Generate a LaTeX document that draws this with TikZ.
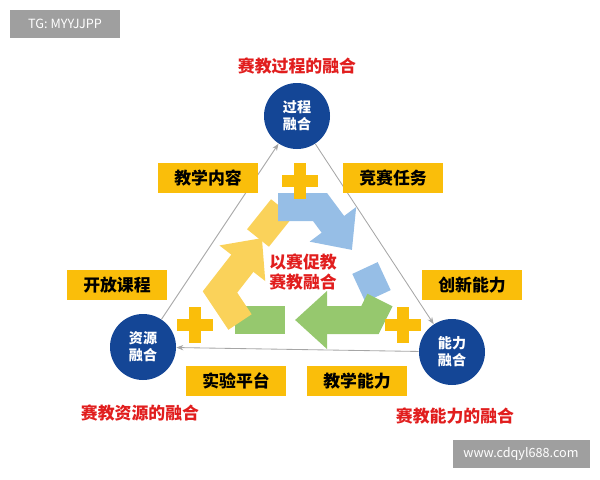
\documentclass[tikz,border=0pt]{standalone}
\usepackage{fontspec}
\setmainfont{Noto Sans CJK SC}
\usetikzlibrary{arrows.meta, positioning}
\definecolor{hubblue}{RGB}{20, 70, 150}
\definecolor{tagyellow}{RGB}{250, 190, 10}
\definecolor{titlered}{RGB}{225, 30, 30}
\definecolor{cycblue}{RGB}{150, 190, 230}
\definecolor{cycgreen}{RGB}{150, 200, 110}
\definecolor{cycyellow}{RGB}{250, 210, 90}
\tikzstyle{hub} = [circle, fill=hubblue, minimum size=66*0.025cm, inner sep=0pt, text=white, align=center, font=\bfseries]
\tikzstyle{tag} = [fill=tagyellow, minimum width=100*0.025cm, minimum height=30*0.025cm, inner sep=1pt, font=\bfseries\large]
\tikzstyle{title} = [text=titlered, font=\bfseries\large]
\tikzstyle{link} = [gray!70, line width=0.6pt, -{Stealth[length=5pt]}]
\tikzstyle{band} = [line width=28*0.025cm]
\tikzstyle{cyc} = [band, -{Triangle[length=32*0.025cm, width=56*0.025cm]}]

\begin{document}
\begin{tikzpicture}[x=0.025cm, y=-0.025cm]
\useasboundingbox (0,0) rectangle (600,480);
% watermarks
\node[fill=gray!75, text=white, minimum width=110*0.025cm, minimum height=28*0.025cm, font=\small] (wm1) at (65,24) {TG: MYYJJPP};
\node[fill=gray!75, text=white, minimum width=137*0.025cm, minimum height=28*0.025cm, font=\small] (wm2) at (521,454) {www.cdqyl688.com};

% hubs
\node[hub] (proc) at (297,116) {过程\\融合};
\node[hub] (res) at (143,347) {资源\\融合};
\node[hub] (abil) at (452,352) {能力\\融合};

% titles
\node[title] (tproc) at (297,66) {赛教过程的融合};
\node[title] (tres) at (140,413) {赛教资源的融合};
\node[title] (tabil) at (455,416) {赛教能力的融合};

% links
\draw[link, {Stealth[length=5pt]}-] (proc) -- (res);
\draw[link] (proc) -- (abil);
\draw[link, {Stealth[length=5pt]}-] (res) -- (abil);

% cycle arrows
\draw[band, cycyellow] (258,238) -- (282,208);
\draw[band, cycblue] (365,268) -- (378,296);
\draw[band, cycgreen] (235,320) -- (285,320);
\draw[cyc, cycblue] (278,207) -- (320,207) -- (352,250);
\draw[cyc, cycgreen] (380,300) -- (370,320) -- (295,320);
\draw[cyc, cycyellow] (240,322) -- (220,292) -- (262,238);

\node[text=titlered, font=\bfseries\large, align=center] (core) at (303,272) {以赛促教\\赛教融合};

% tags
\node[tag] (t1) at (208,178) {教学内容};
\node[tag] (t2) at (393,178) {竞赛任务};
\node[tag] (t3) at (117,285) {开放课程};
\node[tag] (t4) at (472,285) {创新能力};
\node[tag] (t5) at (236,381) {实验平台};
\node[tag] (t6) at (357,381) {教学能力};

% plus signs
\foreach \px/\py in {300/181, 195/325, 403/325} {
  \fill[tagyellow] (\px-18,\py-6) rectangle (\px+18,\py+6);
  \fill[tagyellow] (\px-6,\py-18) rectangle (\px+6,\py+18);
}
\end{tikzpicture}
\end{document}
